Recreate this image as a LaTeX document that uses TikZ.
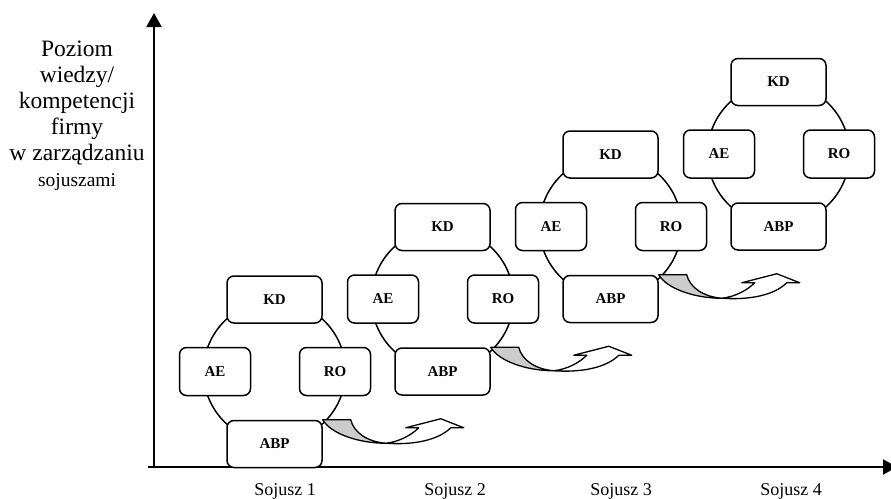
\documentclass[tikz,border=0pt]{standalone}
\usepackage{fontspec}
\setmainfont{Liberation Serif}
\usetikzlibrary{arrows.meta}
\definecolor{cien}{gray}{0.8}
\tikzset{
  blok/.style={draw, rounded corners=7pt, fill=white, line width=1.5pt, inner sep=0pt, font=\fontsize{15}{18}\selectfont\bfseries},
  szeroki/.style={blok, minimum width=95pt, minimum height=47pt},
  waski/.style={blok, minimum width=71pt, minimum height=48pt},
  krag/.style={draw, circle, line width=1.5pt, minimum size=142pt, inner sep=0pt},
  os/.style={line width=2pt, -{Triangle[length=14pt,width=15pt]}},
  sojusz/.style={anchor=base, inner sep=0pt, font=\fontsize{18}{20}\selectfont},
}
\newcommand{\strzalka}[1]{%
  \begin{scope}[shift={(#1)}, line width=1.3pt, line join=round]
  \filldraw[fill=cien] (0,0) -- (28,0) .. controls (31,13) and (45,22) .. (63,23.5) .. controls (36,23.5) and (8,14) .. cycle;
  \filldraw[fill=white] (63,23.5) .. controls (77,22) and (89,15) .. (96,8) -- (83,8) -- (118,-1) -- (141,8) -- (128,8) .. controls (116,20) and (92,25.5) .. (63,23.5) -- cycle;
  \end{scope}}
\begin{document}
\begin{tikzpicture}[x=1pt, y=-1pt]
\useasboundingbox (0,0) rectangle (891,498);
% osie
\coordinate (o) at (154,468);
\coordinate (ytop) at (154,13);
\coordinate (x0) at (148,467);
\coordinate (xend) at (897,467);
\draw[os] (o) -- (ytop);
\draw[os] (x0) -- (xend);
\node[align=center, anchor=north, inner sep=0pt, font=\fontsize{23.5}{26}\selectfont] (opis) at (77,41) {Poziom\\wiedzy/\\kompetencji\\firmy\\w zarządzaniu\\{\fontsize{19.5}{26}\selectfont sojuszami}};
% sojusz 1
\node[krag] (s1) at (274.5,371.5) {};
\node[szeroki] (kd1) at (274.5,299.5) {KD};
\node[waski] (ae1) at (215,371.5) {AE};
\node[waski] (ro1) at (335,371.5) {RO};
\node[szeroki] (abp1) at (274.5,444) {ABP};
% sojusz 2
\node[krag] (s2) at (442.5,299) {};
\node[szeroki] (kd2) at (442.5,227) {KD};
\node[waski] (ae2) at (383,299) {AE};
\node[waski] (ro2) at (503,299) {RO};
\node[szeroki] (abp2) at (442.5,371.5) {ABP};
% sojusz 3
\node[krag] (s3) at (610.5,226.5) {};
\node[szeroki] (kd3) at (610.5,154.5) {KD};
\node[waski] (ae3) at (551,226.5) {AE};
\node[waski] (ro3) at (671,226.5) {RO};
\node[szeroki] (abp3) at (610.5,299) {ABP};
% sojusz 4
\node[krag] (s4) at (778.5,154) {};
\node[szeroki] (kd4) at (778.5,82) {KD};
\node[waski] (ae4) at (719,154) {AE};
\node[waski] (ro4) at (839,154) {RO};
\node[szeroki] (abp4) at (778.5,226.5) {ABP};
% strzalki
\strzalka{abp1.north east}
\strzalka{abp2.north east}
\strzalka{abp3.north east}
% podpisy
\node[sojusz] (n1) at (285,495) {Sojusz 1};
\node[sojusz] (n2) at (455,495) {Sojusz 2};
\node[sojusz] (n3) at (621,495) {Sojusz 3};
\node[sojusz] (n4) at (791,495) {Sojusz 4};
\end{tikzpicture}
\end{document}
